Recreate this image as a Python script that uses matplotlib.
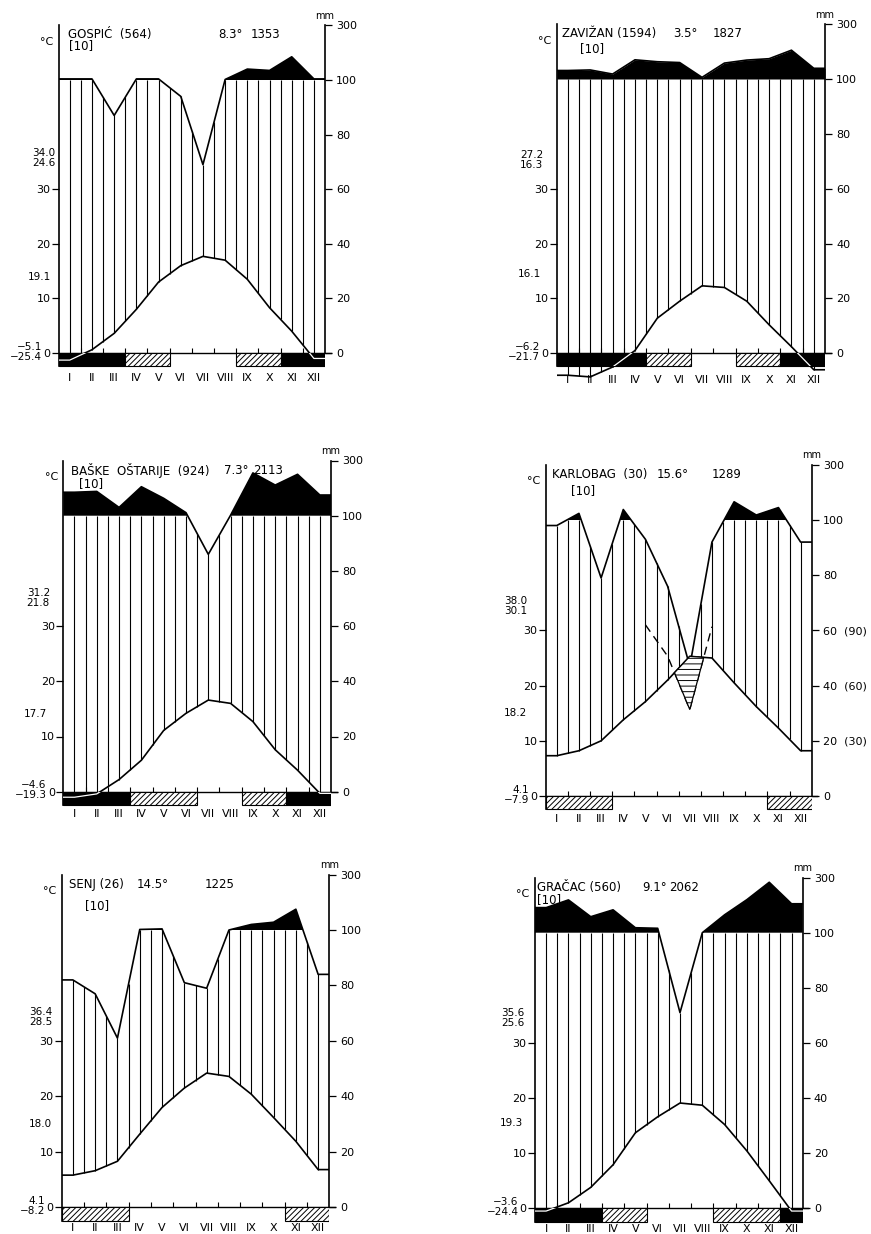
import numpy as np
import matplotlib.pyplot as plt
from matplotlib.patches import Rectangle

plt.rcParams['font.family'] = 'DejaVu Sans'
plt.rcParams['hatch.linewidth'] = 0.7

months = ['I', 'II', 'III', 'IV', 'V', 'VI', 'VII', 'VIII', 'IX', 'X', 'XI', 'XII']

# monthly mean temperature (°C) and precipitation (mm)
gospic_temp = [-1.3, 0.6, 3.6, 8.0, 13.0, 16.0, 17.7, 17.0, 13.5, 8.3, 4.0, -1.0]
gospic_prec = [104, 104, 87, 104, 104, 94, 69, 102, 140, 135, 185, 104]
gospic_frost = [(0, 3, 'k'), (3, 5, 'h'), (8, 10, 'h'), (10, 12, 'k')]

zavizan_temp = [-4.0, -4.3, -2.5, 0.5, 6.4, 9.5, 12.3, 12.0, 9.5, 5.2, 1.2, -3.0]
zavizan_prec = [131, 133, 118, 170, 163, 160, 106, 158, 169, 174, 205, 139]
zavizan_frost = [(0, 4, 'k'), (4, 6, 'h'), (8, 10, 'h'), (10, 12, 'k')]

baske_temp = [-1.0, -0.4, 2.2, 5.7, 11.1, 14.2, 16.6, 16.0, 12.7, 7.6, 3.9, -0.3]
baske_prec = [185, 188, 130, 205, 163, 111, 86, 102, 255, 211, 250, 175]
baske_frost = [(0, 3, 'k'), (3, 6, 'h'), (8, 10, 'h'), (10, 12, 'k')]

karlobag_temp = [7.3, 8.2, 10.0, 13.8, 17.1, 21.0, 25.3, 25.0, 20.5, 16.2, 12.3, 8.2]
karlobag_prec = [98, 124, 79, 138, 93, 76, 47, 92, 166, 118, 145, 92]
karlobag_frost = [(0, 3, 'h'), (10, 12, 'h')]

senj_temp = [5.8, 6.6, 8.3, 13.2, 18.0, 21.5, 24.2, 23.6, 20.4, 16.2, 11.9, 6.8]
senj_prec = [82, 77, 61, 102, 104, 81, 79, 100, 120, 128, 175, 84]
senj_frost = [(0, 3, 'h'), (10, 12, 'h')]

gracac_temp = [-0.5, 1.0, 3.8, 7.9, 13.7, 16.6, 19.1, 18.7, 15.2, 10.4, 5.0, -0.5]
gracac_prec = [191, 219, 158, 183, 118, 116, 71, 100, 165, 220, 283, 205]
gracac_frost = [(0, 3, 'k'), (3, 5, 'h'), (8, 11, 'h'), (11, 12, 'k')]

W, H = 871, 1234
fig = plt.figure(figsize=(W / 100, H / 100), dpi=100)
YB, YT = -12, 126
BAR = -4.8


def to_units(p):
    p = np.asarray(p, float)
    return np.where(p <= 100, p, 100 + (p - 100) / 10)


def add_panel(left, right, y0, y100):
    s = (y0 - y100) / 100.0
    bottom = y0 - YB * s
    top = y0 - YT * s
    ax = fig.add_axes([left / W, 1 - bottom / H, (right - left) / W, (bottom - top) / H])
    ax.set_xlim(0, 12)
    ax.set_ylim(YB, YT)
    for sp in ax.spines.values():
        sp.set_visible(False)
    return ax


def draw(ax, temp, prec, frost, title, sub, side, month_y, right_lab=None):
    t = 2 * np.asarray(temp, float)
    p = to_units(prec)
    xc = np.concatenate([[0], np.arange(12) + 0.5, [12]])
    tc = np.concatenate([[t[0]], t, [t[-1]]])
    pc = np.concatenate([[p[0]], p, [p[-1]]])

    # humid period: vertical lines every half month
    xs = np.arange(0.5, 12, 0.5)
    ti = np.interp(xs, xc, tc)
    pi = np.minimum(np.interp(xs, xc, pc), 100)
    m = pi > ti
    ax.vlines(xs[m], ti[m], pi[m], color='k', lw=0.8)

    # perhumid part above 100 mm
    ax.fill_between(xc, 100, pc, where=pc > 100, interpolate=True, color='k', lw=0)
    ax.plot(xc, pc, color='k', lw=1.2, zorder=3)
    ax.plot(xc, tc, color='k', lw=1.2, zorder=3)

    # frame
    ax.plot([0, 0], [BAR, 120], color='k', lw=1.2, clip_on=False)
    ax.plot([12, 12], [0, 120], color='k', lw=1.2, clip_on=False)
    ax.plot([0, 12.25], [0, 0], color='k', lw=1.0, clip_on=False)
    ax.vlines(np.arange(1, 12), 0, 1.8, color='k', lw=0.8)

    # frost bar
    for a, b, kind in frost:
        if kind == 'k':
            r = Rectangle((a, BAR), b - a, -BAR, facecolor='k', edgecolor='k', lw=0.8, zorder=4)
            ax.add_patch(r)
            ln, = ax.plot(xc, tc, color='white', lw=0.9, zorder=5)
            ln.set_clip_path(r)
        else:
            r = Rectangle((a, BAR), b - a, -BAR, facecolor='white', edgecolor='k',
                          hatch='//////', lw=0.8, zorder=4)
            ax.add_patch(r)

    # ticks
    ax.set_xticks([])
    ax.set_yticks([0, 20, 40, 60], ['0', '10', '20', '30'])
    ax.tick_params(axis='y', direction='out', length=5, width=0.9, labelsize=8, pad=1)
    ax2 = ax.twinx()
    ax2.set_ylim(YB, YT)
    for sp in ax2.spines.values():
        sp.set_visible(False)
    if right_lab is None:
        right_lab = ['0', '20', '40', '60', '80', '100', '300']
    ax2.set_yticks([0, 20, 40, 60, 80, 100, 120], right_lab)
    ax2.tick_params(axis='y', direction='out', length=5, width=0.9, labelsize=8, pad=3)

    for i, mo in enumerate(months):
        ax.text(i + 0.5, month_y, mo, ha='center', va='center', fontsize=8)

    # labels
    tr = ax.get_yaxis_transform()
    ax.text(12, 123.5, 'mm', ha='center', va='center', fontsize=7)
    ax.text(-0.045, 114, '°C', transform=tr, ha='center', va='center', fontsize=8)
    for s, x in title:
        ax.text(x, 116.5, s, transform=tr, va='center', fontsize=8.5)
    ax.text(sub[1], sub[2], sub[0], transform=tr, va='center', fontsize=8.5)
    hi, hx, hy, mid, mx, my, lo = side
    ax.text(hx, hy, hi, transform=tr, ha='right', va='center', fontsize=7.5, linespacing=1.0)
    ax.text(mx, my, mid, transform=tr, ha='right', va='center', fontsize=7.5)
    ax.text(-0.062, 0.5, lo, transform=tr, ha='right', va='center', fontsize=7.5,
            linespacing=1.0)


ax = add_panel(58.7, 325, 353, 80)
draw(ax, gospic_temp, gospic_prec, gospic_frost,
     [('GOSPIĆ  (564)', 0.036), ('8.3°', 0.6), ('1353', 0.72)], ('[10]', 0.04, 112.5),
     ('34.0\n24.6', -0.012, 71.4, '19.1', -0.03, 28, '−5.1\n−25.4'), -9.0)

ax = add_panel(556.7, 825, 353.3, 79)
draw(ax, zavizan_temp, zavizan_prec, zavizan_frost,
     [('ZAVIŽAN (1594)', 0.02), ('3.5°', 0.435), ('1827', 0.58)], ('[10]', 0.087, 111),
     ('27.2\n16.3', -0.05, 70.5, '16.1', -0.06, 29, '−6.2\n−21.7'), -9.6)

ax = add_panel(63.3, 331, 791.7, 515.7)
draw(ax, baske_temp, baske_prec, baske_frost,
     [('BAŠKE  OŠTARIJE  (924)', 0.03), ('7.3°', 0.6), ('2113', 0.71)], ('[10]', 0.06, 111.7),
     ('31.2\n21.8', -0.05, 70, '17.7', -0.06, 28, '−4.6\n−19.3'), -8.0)

ax = add_panel(545.7, 811.7, 796, 520)
draw(ax, karlobag_temp, karlobag_prec, karlobag_frost,
     [('KARLOBAG  (30)', 0.023), ('15.6°', 0.417), ('1289', 0.624)], ('[10]', 0.094, 110.8),
     ('38.0\n30.1', -0.07, 69, '18.2', -0.07, 30, '4.1\n−7.9'), -8.2,
     right_lab=['0', '20  (30)', '40  (60)', '60  (90)', '80', '100', '300'])
# dry period on the 10 °C = 30 mm scale
kb_x = np.arange(4, 8) + 0.5
kb_dry = np.asarray(karlobag_prec[4:8], float) * 2 / 3
kb_t = 2 * np.asarray(karlobag_temp[4:8], float)
ax.plot(kb_x, kb_dry, color='k', lw=1.0, dashes=(6, 4))
xx = np.linspace(4.5, 7.5, 300)
dd = np.interp(xx, kb_x, kb_dry)
tt = np.interp(xx, kb_x, kb_t)
ax.fill_between(xx, dd, tt, where=dd < tt, facecolor='white', edgecolor='k',
                hatch='---', lw=0.9, zorder=3)

ax = add_panel(61.7, 329.3, 1207.3, 930)
draw(ax, senj_temp, senj_prec, senj_frost,
     [('SENJ (26)', 0.029), ('14.5°', 0.28), ('1225', 0.535)], ('[10]', 0.087, 109),
     ('36.4\n28.5', -0.035, 68.5, '18.0', -0.035, 30, '4.1\n−8.2'), -7.6)

ax = add_panel(535, 802.7, 1208.3, 932.7)
draw(ax, gracac_temp, gracac_prec, gracac_frost,
     [('GRAČAC (560)', 0.006), ('9.1°', 0.4), ('2062', 0.5)], ('[10]', 0.006, 112),
     ('35.6\n25.6', -0.04, 69, '19.3', -0.045, 31, '−3.6\n−24.4'), -7.6)

fig.savefig('out.png', dpi=100, facecolor='white')
